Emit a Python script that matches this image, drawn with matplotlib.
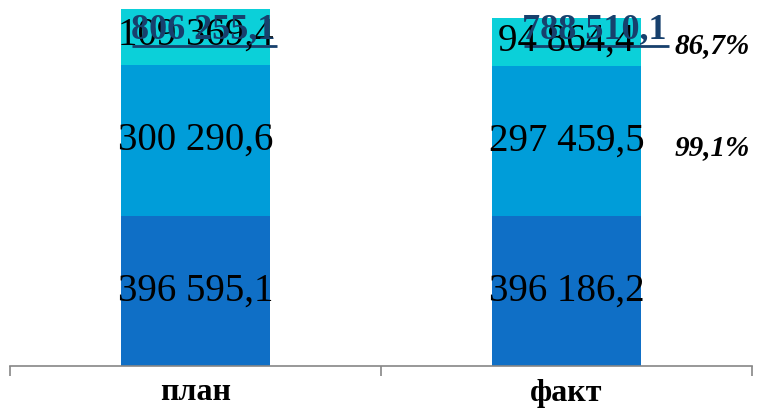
import numpy as np
import matplotlib.pyplot as plt

# значения из исходной диаграммы
categories = ['план', 'факт']
seg1 = [396595.1, 396186.2]
seg2 = [300290.6, 297459.5]
seg3 = [109369.4, 94864.4]
totals = [806255.1, 788510.1]

colors = ['#0F6FC6', '#009DD9', '#0BD0D9']
navy = '#17406D'


def fmt(v):
    return f"{v:,.1f}".replace(",", " ").replace(".", ",")


plt.rcParams['font.family'] = ['Liberation Serif', 'DejaVu Serif']

fig = plt.figure(figsize=(7.58, 4.2), dpi=100)
ax = fig.add_axes([10 / 758, 54 / 420, 742 / 758, 366 / 420])

x = np.arange(len(categories))
w = 0.404
s1 = np.array(seg1)
s2 = np.array(seg2)
s3 = np.array(seg3)

ax.bar(x, s1, w, color=colors[0])
ax.bar(x, s2, w, bottom=s1, color=colors[1])
ax.bar(x, s3, w, bottom=s1 + s2, color=colors[2])

ymin, ymax = 100000, 825000
ax.set_ylim(ymin, ymax)
ax.set_xlim(-0.5, 1.5)

# подписи сегментов
for i in range(len(x)):
    ax.text(x[i], (ymin + s1[i]) / 2, fmt(s1[i]), ha='center', va='center',
            fontsize=28, color='black')
    ax.text(x[i], s1[i] + s2[i] / 2, fmt(s2[i]), ha='center', va='center',
            fontsize=28, color='black')
    ax.text(x[i], s1[i] + s2[i] + s3[i] / 2 + 3000, fmt(s3[i]), ha='center',
            va='center', fontsize=28, color='black')

# итоги
shifts = [0.02, 0.075]
tr = ax.get_xaxis_transform()
for i in range(len(x)):
    ax.text(x[i] + shifts[i], 0.918, fmt(totals[i]), transform=tr,
            ha='center', va='center', fontsize=26, fontweight='bold',
            color=navy)
    ax.plot([x[i] + shifts[i] - 0.19, x[i] + shifts[i] + 0.2], [0.873, 0.873],
            transform=tr, color=navy, lw=2, solid_capstyle='butt')

# процент исполнения
pct2 = s2[1] / s2[0] * 100
pct3 = s3[1] / s3[0] * 100
ax.text(x[1] + 0.29, s1[1] + s2[1] / 2 - 12000, f"{pct2:.1f}%".replace(".", ","),
        ha='left', va='center', fontsize=21, fontweight='bold',
        fontstyle='italic', color='black')
ax.text(x[1] + 0.29, s1[1] + s2[1] + s3[1] / 2 - 6000, f"{pct3:.1f}%".replace(".", ","),
        ha='left', va='center', fontsize=21, fontweight='bold',
        fontstyle='italic', color='black')

for sp in ['top', 'right', 'left']:
    ax.spines[sp].set_visible(False)
ax.spines['bottom'].set_color('#868686')
ax.spines['bottom'].set_linewidth(1.2)
ax.set_yticks([])
ax.set_xticks(x)
ax.set_xticklabels(categories, fontsize=23, fontweight='bold')
ax.set_xticks([-0.5, 0.5, 1.5], minor=True)
ax.tick_params(axis='x', which='major', length=0, pad=9)
ax.tick_params(axis='x', which='minor', length=7.5, width=1.2, color='#868686')
ax.patch.set_alpha(0)

fig.savefig('out.png', dpi=100)
